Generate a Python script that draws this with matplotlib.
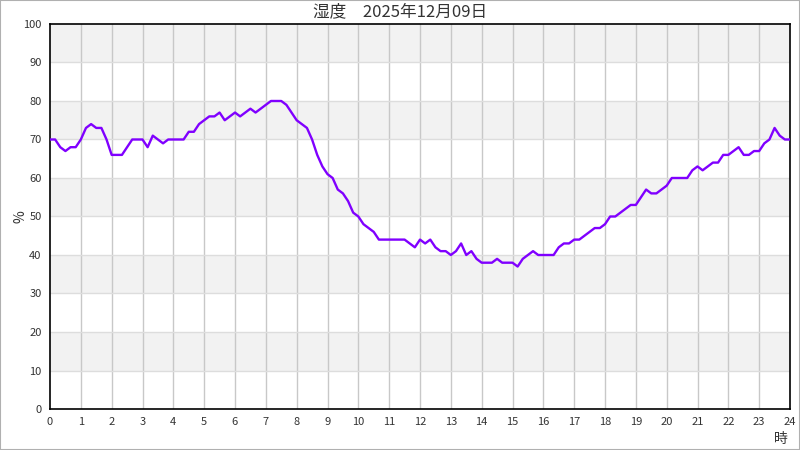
import matplotlib
matplotlib.use("Agg")
import matplotlib.pyplot as plt
from matplotlib.patches import Rectangle
import numpy as np

plt.rcParams['font.family'] = ['Noto Sans CJK JP', 'DejaVu Sans']

title = "湿度　2025年12月09日"
x_ticks = list(range(0, 25))
y_ticks = list(range(0, 101, 10))
# humidity every 10 minutes, 00:00 .. 24:00
humidity = [
    70, 70, 68, 67, 68, 68, 70, 73, 74, 73,
    73, 70, 66, 66, 66, 68, 70, 70, 70, 68,
    71, 70, 69, 70, 70, 70, 70, 72, 72, 74,
    75, 76, 76, 77, 75, 76, 77, 76, 77, 78,
    77, 78, 79, 80, 80, 80, 79, 77, 75, 74,
    73, 70, 66, 63, 61, 60, 57, 56, 54, 51,
    50, 48, 47, 46, 44, 44, 44, 44, 44, 44,
    43, 42, 44, 43, 44, 42, 41, 41, 40, 41,
    43, 40, 41, 39, 38, 38, 38, 39, 38, 38,
    38, 37, 39, 40, 41, 40, 40, 40, 40, 42,
    43, 43, 44, 44, 45, 46, 47, 47, 48, 50,
    50, 51, 52, 53, 53, 55, 57, 56, 56, 57,
    58, 60, 60, 60, 60, 62, 63, 62, 63, 64,
    64, 66, 66, 67, 68, 66, 66, 67, 67, 69,
    70, 73, 71, 70, 70,
]
hours = np.arange(len(humidity)) / 6.0

fig = plt.figure(figsize=(8, 4.5), dpi=100)
fig.patches.append(Rectangle((0, 0), 1, 1, transform=fig.transFigure,
                             fill=False, edgecolor='#b0b0b0', linewidth=1.5))
ax = fig.add_axes([0.0625, 0.0911, 0.925, 0.8556])

# alternating bands
for lo in range(10, 100, 20):
    ax.axhspan(lo, lo + 10, color='#f2f2f2', zorder=0, linewidth=0)

for h in x_ticks[1:-1]:
    ax.axvline(h, color='#c8c8c8', linewidth=1, zorder=1)
for v in y_ticks[1:-1]:
    ax.axhline(v, color='#dddddd', linewidth=1, zorder=1)

ax.plot(hours, humidity, color='#8000ff', linewidth=1.7, zorder=3)

ax.set_xlim(0, 24)
ax.set_ylim(0, 100)
ax.set_xticks(x_ticks)
ax.set_yticks(y_ticks)
ax.tick_params(length=0, labelsize=8, colors='#333333', pad=6)
for s in ax.spines.values():
    s.set_color('black')
    s.set_linewidth(1.2)

ax.set_ylabel('%', fontsize=10, color='#333333', labelpad=-3)
fig.text(0.5, 0.973, title, fontsize=12, color='#333333', ha='center', va='center')
fig.text(0.976, 0.008, '時', fontsize=10, color='#333333', ha='center', va='bottom')

fig.savefig('out.png', dpi=100)
